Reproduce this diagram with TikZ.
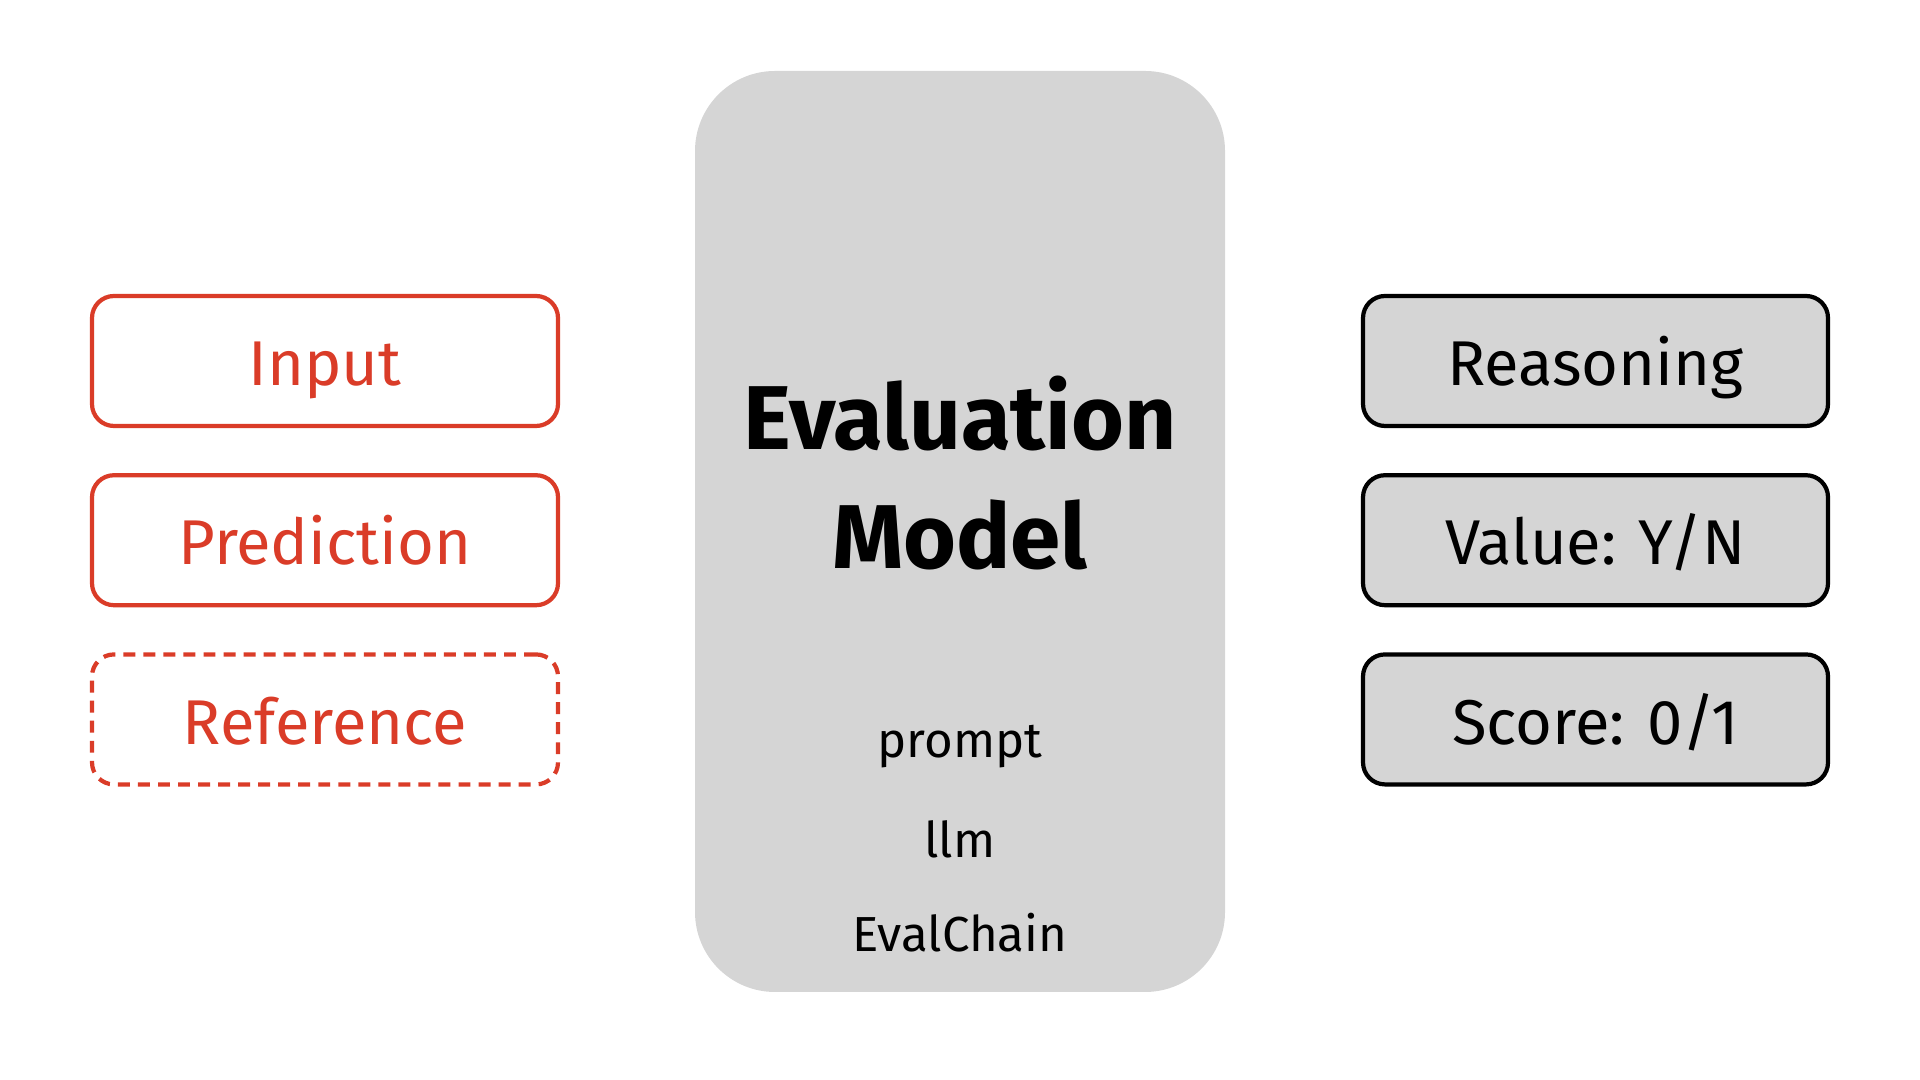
\documentclass[tikz,border=0pt]{standalone}
\usepackage{fontspec}
\setmainfont{Fira Sans}
\usepackage{tikz}
\usetikzlibrary{positioning}
\definecolor{evalred}{RGB}{218,60,40}
\definecolor{evalgray}{RGB}{213,213,213}
\tikzstyle{inbox} = [rectangle, rounded corners=0.22cm, draw=evalred, line width=1.2pt, minimum width=4.66cm, minimum height=1.30cm, text=evalred, text height=16.2pt, text depth=2.2pt, font=\fontsize{18}{20}\selectfont]
\tikzstyle{outbox} = [rectangle, rounded corners=0.22cm, draw=black, fill=evalgray, line width=1.2pt, minimum width=4.65cm, minimum height=1.30cm, text height=16.2pt, text depth=2.2pt, font=\fontsize{18}{20}\selectfont]
\tikzstyle{small} = [font=\fontsize{14}{16}\selectfont]

\begin{document}
\begin{tikzpicture}[node distance=0.45cm]
    \useasboundingbox (0,0) rectangle (19.2,10.8);

    % Model
    \node[rectangle, rounded corners=0.8cm, fill=evalgray, minimum width=5.30cm, minimum height=9.21cm] (model) at (9.6,5.485) {};
    \node[align=center, font=\bfseries\fontsize{25.8}{34}\selectfont] (title) at (9.6,6.07) {Evaluation\\Model};
    \node[small] (prompt) at (9.6,3.33) {prompt};
    \node[small] (llm) at (9.6,2.41) {llm};
    \node[small] (chain) at (9.6,1.47) {EvalChain};

    % Inputs
    \node[inbox] (input) at (3.25,7.19) {Input};
    \node[inbox, below=of input] (pred) {Prediction};
    \node[inbox, dash pattern=on 3.4pt off 2.3pt, below=of pred] (ref) {Reference};

    % Outputs
    \node[outbox] (reason) at (15.955,7.19) {Reasoning};
    \node[outbox, below=of reason] (value) {Value: Y/N};
    \node[outbox, below=of value] (score) {Score: 0/1};
\end{tikzpicture}
\end{document}
